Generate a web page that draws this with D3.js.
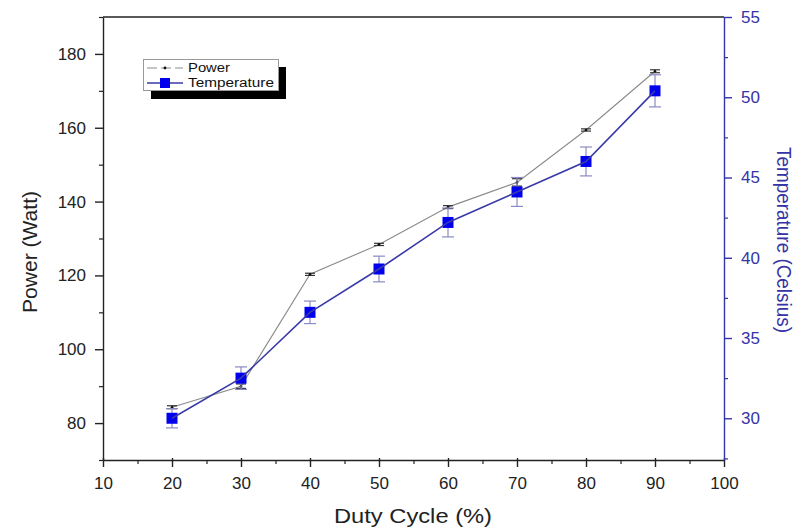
<!DOCTYPE html>
<html><head><meta charset="utf-8">
<script src="https://cdn.jsdelivr.net/npm/d3@7"></script>
<style>body{margin:0;background:#fff}svg{display:block;font-family:"Liberation Sans",Arial,sans-serif}</style>
</head><body><svg id="c" width="800" height="531"></svg>
<script>
const dutyCycle = [20, 30, 40, 50, 60, 70, 80, 90];
const power = [84.3, 90.0, 120.3, 128.4, 138.5, 145.2, 159.4, 175.3];
const powerErr = [0.4, 0.6, 0.3, 0.3, 0.4, 1.0, 0.3, 0.4];
const temperature = [30.0, 32.5, 36.6, 39.3, 42.2, 44.1, 46.0, 50.4];
const tempErr = [0.6, 0.7, 0.7, 0.8, 0.9, 0.9, 0.9, 1.0];
const xTicks = [10, 20, 30, 40, 50, 60, 70, 80, 90, 100];
const yLeftTicks = [80, 100, 120, 140, 160, 180];
const yRightTicks = [30, 35, 40, 45, 50, 55];

const svg = d3.select("#c");
const L = 103, R = 724, T = 17, B = 460;
const x = d3.scaleLinear().domain([10, 100]).range([L, R]);
const yL = d3.scaleLinear().domain([70, 190]).range([B, T]);
const yR = d3.scaleLinear().domain([27.4, 55]).range([B, T]);
const blue = "#3434a6";

svg.append("line").attr("x1", L).attr("x2", R).attr("y1", T).attr("y2", T).attr("stroke", "#222").attr("stroke-width", 1.4);

function styleAxis(g, color) {
  g.selectAll("path,line").attr("stroke", color).attr("stroke-width", 1.4);
  g.selectAll("text").attr("fill", color).attr("font-size", 17);
}
const xAx = svg.append("g").attr("transform", `translate(0,${B})`)
  .call(d3.axisBottom(x).tickValues(xTicks).tickSizeInner(7).tickSizeOuter(0).tickPadding(10));
styleAxis(xAx, "#222");
xAx.selectAll(".tick line").attr("y1", -2);
svg.append("g").attr("transform", `translate(0,${B})`)
  .call(d3.axisBottom(x).tickValues(d3.range(15, 100, 10)).tickSize(4).tickFormat(""))
  .call(g => { g.select("path").remove(); g.selectAll("line").attr("stroke", "#222").attr("stroke-width", 1.2); });

const yLAx = svg.append("g").attr("transform", `translate(${L},0)`)
  .call(d3.axisLeft(yL).tickValues(yLeftTicks).tickSizeInner(8).tickSizeOuter(0).tickPadding(9));
styleAxis(yLAx, "#222");
svg.append("g").attr("transform", `translate(${L},0)`)
  .call(d3.axisLeft(yL).tickValues([70, 90, 110, 130, 150, 170, 190]).tickSize(4).tickFormat(""))
  .call(g => { g.select("path").remove(); g.selectAll("line").attr("stroke", "#222").attr("stroke-width", 1.2); });

const yRAx = svg.append("g").attr("transform", `translate(${R},0)`)
  .call(d3.axisRight(yR).tickValues(yRightTicks).tickSizeInner(8).tickSizeOuter(0).tickPadding(9));
styleAxis(yRAx, blue);
svg.append("g").attr("transform", `translate(${R},0)`)
  .call(d3.axisRight(yR).tickValues([27.5, 32.5, 37.5, 42.5, 47.5, 52.5]).tickSize(4).tickFormat(""))
  .call(g => { g.select("path").remove(); g.selectAll("line").attr("stroke", blue).attr("stroke-width", 1.2); });

svg.append("text").attr("x", 413).attr("y", 523).attr("text-anchor", "middle")
  .attr("font-size", 20).attr("fill", "#222").attr("textLength", 158).attr("lengthAdjust", "spacingAndGlyphs").text("Duty Cycle (%)");
svg.append("text").attr("transform", `translate(37,252) rotate(-90)`).attr("text-anchor", "middle")
  .attr("font-size", 20).attr("fill", "#222").attr("textLength", 122).attr("lengthAdjust", "spacingAndGlyphs").text("Power (Watt)");
svg.append("text").attr("transform", `translate(777,240) rotate(90)`).attr("text-anchor", "middle")
  .attr("font-size", 20).attr("fill", blue).attr("textLength", 186).attr("lengthAdjust", "spacingAndGlyphs").text("Temperature (Celsius)");

// Power series
const pData = dutyCycle.map((d, i) => ({ x: d, y: power[i], e: powerErr[i] }));
svg.append("path").datum(pData).attr("fill", "none").attr("stroke", "#8a8a8a").attr("stroke-width", 1.1)
  .attr("d", d3.line().x(d => x(d.x)).y(d => yL(d.y)));
const pe = svg.append("g").selectAll("g").data(pData).join("g");
pe.append("line").attr("x1", d => x(d.x)).attr("x2", d => x(d.x)).attr("y1", d => yL(d.y - d.e)).attr("y2", d => yL(d.y + d.e)).attr("stroke", "#333");
pe.append("line").attr("x1", d => x(d.x) - 5).attr("x2", d => x(d.x) + 5).attr("y1", d => yL(d.y - d.e)).attr("y2", d => yL(d.y - d.e)).attr("stroke", "#333").attr("stroke-width", 1.2);
pe.append("line").attr("x1", d => x(d.x) - 5).attr("x2", d => x(d.x) + 5).attr("y1", d => yL(d.y + d.e)).attr("y2", d => yL(d.y + d.e)).attr("stroke", "#333").attr("stroke-width", 1.2);
pe.append("circle").attr("cx", d => x(d.x)).attr("cy", d => yL(d.y)).attr("r", 1.3).attr("fill", "#111");

// Temperature series
const tData = dutyCycle.map((d, i) => ({ x: d, y: temperature[i], e: tempErr[i] }));
const te = svg.append("g").selectAll("g").data(tData).join("g");
const ebc = "#8a8ac4";
te.append("line").attr("x1", d => x(d.x)).attr("x2", d => x(d.x)).attr("y1", d => yR(d.y - d.e)).attr("y2", d => yR(d.y + d.e)).attr("stroke", ebc).attr("stroke-width", 1.2);
te.append("line").attr("x1", d => x(d.x) - 6).attr("x2", d => x(d.x) + 6).attr("y1", d => yR(d.y - d.e)).attr("y2", d => yR(d.y - d.e)).attr("stroke", ebc).attr("stroke-width", 1.2);
te.append("line").attr("x1", d => x(d.x) - 6).attr("x2", d => x(d.x) + 6).attr("y1", d => yR(d.y + d.e)).attr("y2", d => yR(d.y + d.e)).attr("stroke", ebc).attr("stroke-width", 1.2);
svg.append("path").datum(tData).attr("fill", "none").attr("stroke", "#3a3aa8").attr("stroke-width", 1.6)
  .attr("d", d3.line().x(d => x(d.x)).y(d => yR(d.y)));
te.append("rect").attr("x", d => x(d.x) - 5.5).attr("y", d => yR(d.y) - 5.5).attr("width", 11).attr("height", 11).attr("fill", "#0000ee");

// Legend
const lg = svg.append("g");
lg.append("rect").attr("x", 151).attr("y", 67).attr("width", 135).attr("height", 32).attr("fill", "#000");
lg.append("rect").attr("x", 143.5).attr("y", 59.5).attr("width", 135).attr("height", 31).attr("fill", "#fff").attr("stroke", "#999").attr("stroke-width", 1);
lg.append("line").attr("x1", 147).attr("x2", 183).attr("y1", 68).attr("y2", 68).attr("stroke", "#8a8a8a").attr("stroke-dasharray", "10,4");
lg.append("circle").attr("cx", 165).attr("cy", 68).attr("r", 1.4).attr("fill", "#111");
lg.append("text").attr("x", 188).attr("y", 72).attr("font-size", 12).attr("fill", "#111").attr("textLength", 42).attr("lengthAdjust", "spacingAndGlyphs").text("Power");
lg.append("line").attr("x1", 147).attr("x2", 183).attr("y1", 83).attr("y2", 83).attr("stroke", "#3a3aa8").attr("stroke-width", 1.6);
lg.append("rect").attr("x", 160).attr("y", 78).attr("width", 10).attr("height", 10).attr("fill", "#0000ee");
lg.append("text").attr("x", 188).attr("y", 87).attr("font-size", 12).attr("fill", "#111").attr("textLength", 86).attr("lengthAdjust", "spacingAndGlyphs").text("Temperature");
</script></body></html>
